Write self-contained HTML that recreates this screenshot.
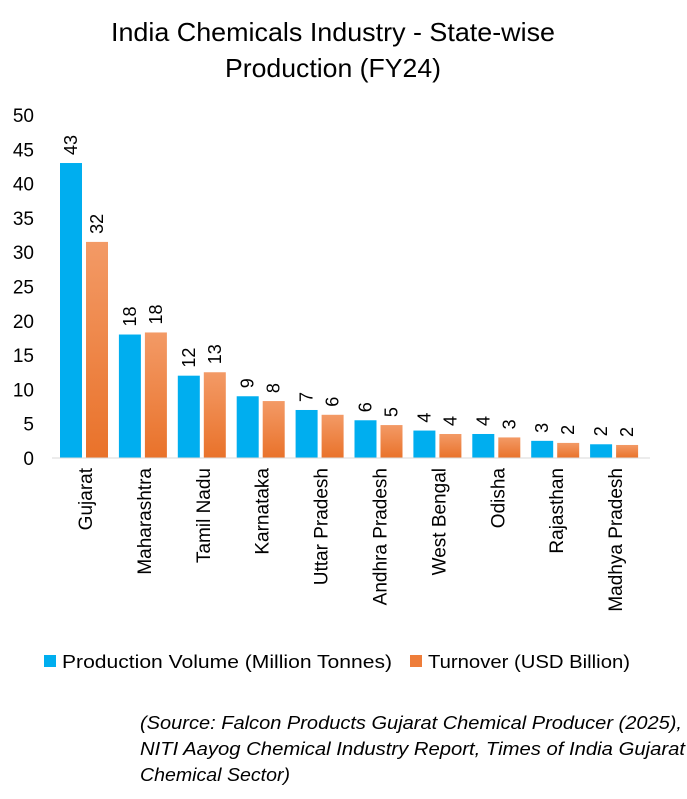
<!DOCTYPE html>
<html><head><meta charset="utf-8"><style>
body{margin:0;background:#fff;width:687px;height:794px;overflow:hidden;font-family:"Liberation Sans",Carlito,sans-serif}
</style></head><body>
<svg id="chart" width="687" height="794" xmlns="http://www.w3.org/2000/svg">
<defs>
<linearGradient id="og" x1="0" y1="0" x2="0" y2="1"><stop offset="0" stop-color="#F39A66"/><stop offset="1" stop-color="#E9722A"/></linearGradient>
</defs>
<text x="333" y="41" text-anchor="middle" font-size="26" textLength="444" lengthAdjust="spacingAndGlyphs" fill="#000">India Chemicals Industry - State-wise</text>
<text x="333" y="77" text-anchor="middle" font-size="26" textLength="216" lengthAdjust="spacingAndGlyphs" fill="#000">Production (FY24)</text>
<g id="yaxis"></g>
<g id="bars"></g>
<line x1="52" y1="458" x2="650" y2="458" stroke="#d9d9d9" stroke-width="1"/>
<rect x="44" y="655" width="12" height="12" fill="#00AEEF"/>
<text x="62" y="668" font-size="18" textLength="330" lengthAdjust="spacingAndGlyphs" fill="#000">Production Volume (Million Tonnes)</text>
<rect x="410" y="655" width="12" height="12" fill="#EE7D3A"/>
<text x="428" y="668" font-size="18" textLength="202" lengthAdjust="spacingAndGlyphs" fill="#000">Turnover (USD Billion)</text>
<g font-size="18" font-style="italic" fill="#000" lengthAdjust="spacingAndGlyphs">
<text x="140" y="729" textLength="542" lengthAdjust="spacingAndGlyphs">(Source: Falcon Products Gujarat Chemical Producer (2025),</text>
<text x="140" y="755" textLength="545" lengthAdjust="spacingAndGlyphs">NITI Aayog Chemical Industry Report, Times of India Gujarat</text>
<text x="140" y="781" textLength="150" lengthAdjust="spacingAndGlyphs">Chemical Sector)</text>
</g>
</svg>
<script>
const categories=["Gujarat","Maharashtra","Tamil Nadu","Karnataka","Uttar Pradesh","Andhra Pradesh","West Bengal","Odisha","Rajasthan","Madhya Pradesh"];
const volume=[43,18,12,9,7,5.5,4,3.5,2.5,2];
const turnover=[31.5,18.3,12.5,8.3,6.3,4.8,3.5,3,2.2,1.9];
const volumeLabels=["43","18","12","9","7","6","4","4","3","2"];
const turnoverLabels=["32","18","13","8","6","5","4","3","2","2"];
const yTicks=[0,5,10,15,20,25,30,35,40,45,50];
const NS="http://www.w3.org/2000/svg";
const y0=458,k=6.86,x0=60,pitch=58.9,bw=22;
const Y=v=>y0-v*k;
const X=i=>x0+i*pitch;
function mk(t,a,p){const e=document.createElementNS(NS,t);for(const n in a)e.setAttribute(n,a[n]);p.appendChild(e);return e;}
const ya=document.getElementById('yaxis'),bars=document.getElementById('bars');
yTicks.forEach(t=>{const e=mk('text',{x:34,y:Y(t)+7,'text-anchor':'end','font-size':19,fill:'#000'},ya);e.textContent=t;

});
categories.forEach((c,i)=>{
 const bx=X(i),ox=X(i)+26;
 const b=mk('rect',{x:bx,y:Y(volume[i]),width:bw,height:volume[i]*k,fill:'#00AEEF'},bars);
 
 
 const o=mk('rect',{x:ox,y:Y(turnover[i]),width:bw,height:turnover[i]*k,fill:'url(#og)'},bars);
 
 
 [[bx,volume[i],volumeLabels[i]],[ox,turnover[i],turnoverLabels[i]]].forEach(([x,v,l])=>{
  const cx=x+bw/2+6,cy=Y(v)-8;
  const t=mk('text',{x:cx,y:cy,'font-size':18,fill:'#000',transform:`rotate(-90 ${cx} ${cy})`},bars);
  t.textContent=l;
  
  
 });
 const lx=X(i)+bw+10,ly=468;
 const t=mk('text',{x:lx,y:ly,'font-size':19,fill:'#000','text-anchor':'end',transform:`rotate(-90 ${lx} ${ly})`},bars);
 t.textContent=c;
 
 
});
</script>
</body></html>
